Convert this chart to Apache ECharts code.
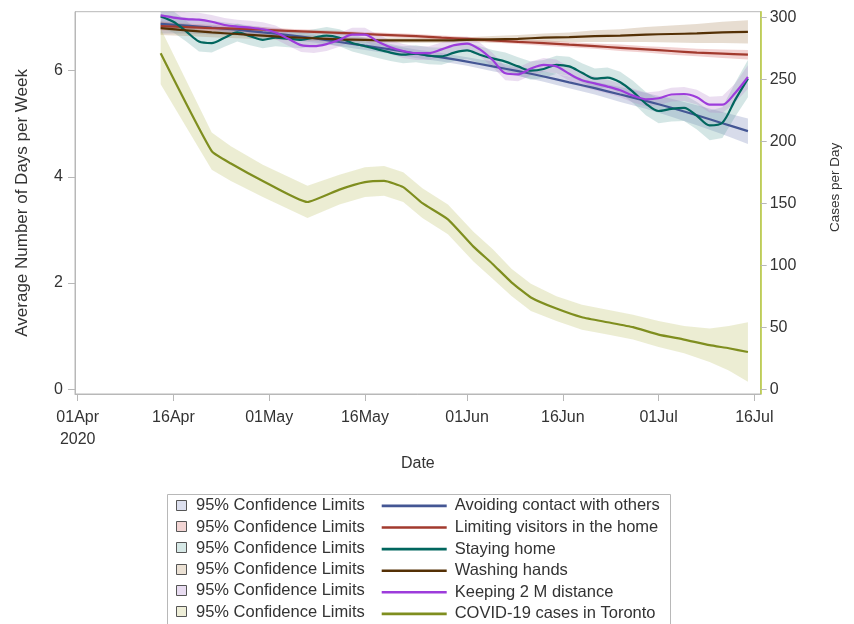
<!DOCTYPE html>
<html>
<head>
<meta charset="utf-8">
<script src="https://cdn.jsdelivr.net/npm/echarts@6/dist/echarts.min.js"></script>
<style>
html,body{margin:0;padding:0;background:#fff;}
#chart{width:854px;height:624px;}
</style>
</head>
<body>
<div id="chart"></div>
<script>
// ---------- data ----------
const tickDates = ['2020-04-01','2020-04-16','2020-05-01','2020-05-16','2020-06-01','2020-06-16','2020-07-01','2020-07-16'];
const tickLabels = ['01Apr\n2020','16Apr','01May','16May','01Jun','16Jun','01Jul','16Jul'];
const leftTicks = [0, 2, 4, 6];
const rightTicks = [0, 50, 100, 150, 200, 250, 300];

// every 4 days (smooth fitted lines)
const dates4 = ['2020-04-14','2020-04-18','2020-04-22','2020-04-26','2020-04-30','2020-05-04','2020-05-08','2020-05-12',
  '2020-05-16','2020-05-20','2020-05-24','2020-05-28','2020-06-01','2020-06-05','2020-06-09','2020-06-13',
  '2020-06-17','2020-06-21','2020-06-25','2020-06-29','2020-07-03','2020-07-07','2020-07-11','2020-07-15'];
// every 2 days (wiggly lines)
const dates2 = ['2020-04-14','2020-04-16','2020-04-18','2020-04-20','2020-04-22','2020-04-24','2020-04-26','2020-04-28','2020-04-30',
  '2020-05-02','2020-05-04','2020-05-06','2020-05-08','2020-05-10','2020-05-12','2020-05-14','2020-05-16','2020-05-18',
  '2020-05-20','2020-05-22','2020-05-24','2020-05-26','2020-05-28','2020-05-30',
  '2020-06-01','2020-06-03','2020-06-05','2020-06-07','2020-06-09','2020-06-11','2020-06-13','2020-06-15','2020-06-17',
  '2020-06-19','2020-06-21','2020-06-23','2020-06-25','2020-06-27','2020-06-29',
  '2020-07-01','2020-07-03','2020-07-05','2020-07-07','2020-07-09','2020-07-11','2020-07-13','2020-07-15'];
const datesCases = ['2020-04-14','2020-04-22','2020-04-25','2020-04-30','2020-05-07','2020-05-12','2020-05-16','2020-05-19',
  '2020-05-22','2020-05-25','2020-05-29','2020-06-02','2020-06-05','2020-06-08','2020-06-11','2020-06-15',
  '2020-06-19','2020-06-23','2020-06-27','2020-07-01','2020-07-05','2020-07-09','2020-07-12','2020-07-15'];

// Avoiding contact with others (dates4)
const avoidMid = [6.88,6.85,6.81,6.77,6.72,6.67,6.61,6.54,6.47,6.40,6.32,6.25,6.17,6.08,5.99,5.89,5.78,5.67,5.55,5.43,5.30,5.16,5.01,4.86];
const avoidLo  = [6.70,6.70,6.68,6.66,6.62,6.58,6.53,6.46,6.39,6.32,6.24,6.17,6.09,5.99,5.90,5.79,5.67,5.55,5.41,5.28,5.13,4.97,4.80,4.62];
const avoidHi  = [7.06,7.00,6.94,6.88,6.82,6.76,6.69,6.62,6.55,6.48,6.40,6.33,6.25,6.17,6.08,5.99,5.89,5.79,5.69,5.58,5.47,5.35,5.22,5.10];
// Limiting visitors in the home (dates4)
const visitMid = [6.84,6.82,6.80,6.79,6.77,6.75,6.73,6.71,6.69,6.67,6.65,6.62,6.60,6.57,6.54,6.52,6.49,6.46,6.43,6.40,6.37,6.34,6.32,6.30];
const visitLo  = [6.76,6.75,6.74,6.74,6.72,6.71,6.69,6.67,6.65,6.63,6.61,6.58,6.56,6.53,6.50,6.47,6.44,6.41,6.37,6.34,6.30,6.27,6.24,6.21];
const visitHi  = [6.92,6.89,6.86,6.84,6.82,6.79,6.77,6.75,6.73,6.71,6.69,6.66,6.64,6.61,6.58,6.57,6.54,6.51,6.49,6.46,6.44,6.41,6.40,6.39];
// Washing hands (dates4)
const washMid = [6.80,6.76,6.72,6.69,6.66,6.63,6.61,6.59,6.58,6.57,6.57,6.57,6.58,6.59,6.60,6.62,6.63,6.65,6.66,6.68,6.69,6.70,6.72,6.73];
const washLo  = [6.67,6.65,6.63,6.61,6.59,6.57,6.56,6.54,6.53,6.52,6.52,6.52,6.53,6.53,6.53,6.54,6.54,6.54,6.54,6.54,6.53,6.52,6.52,6.51];
const washHi  = [6.93,6.87,6.81,6.77,6.73,6.69,6.66,6.64,6.63,6.62,6.62,6.62,6.63,6.65,6.67,6.70,6.72,6.76,6.78,6.82,6.85,6.88,6.92,6.95];
// Staying home (dates2)
const homeMid = [7.02,6.92,6.74,6.55,6.52,6.62,6.72,6.65,6.58,6.62,6.60,6.58,6.62,6.66,6.62,6.52,6.46,6.40,6.34,6.30,6.32,6.28,6.27,6.34,
  6.38,6.30,6.23,6.17,6.08,6.00,6.03,6.11,6.08,5.96,5.85,5.87,5.78,5.60,5.38,5.24,5.28,5.30,5.15,4.97,5.02,5.45,5.85];
const homeLo  = [6.80,6.72,6.55,6.36,6.34,6.45,6.55,6.48,6.42,6.46,6.44,6.42,6.46,6.50,6.46,6.36,6.30,6.24,6.18,6.14,6.16,6.12,6.11,6.18,
  6.22,6.14,6.07,6.00,5.91,5.83,5.86,5.94,5.90,5.78,5.66,5.68,5.58,5.39,5.16,5.01,5.04,5.05,4.89,4.69,4.73,5.13,5.50];
const homeHi  = [7.22,7.12,6.94,6.74,6.70,6.79,6.89,6.82,6.74,6.78,6.76,6.74,6.78,6.82,6.78,6.68,6.62,6.56,6.50,6.46,6.48,6.44,6.43,6.50,
  6.54,6.46,6.39,6.34,6.25,6.17,6.20,6.28,6.26,6.14,6.04,6.06,5.98,5.81,5.60,5.47,5.52,5.55,5.41,5.25,5.31,5.77,6.20];
// Keeping 2 M distance (dates2)
const distMid = [7.04,7.00,6.97,6.96,6.92,6.86,6.83,6.81,6.78,6.72,6.60,6.48,6.46,6.50,6.58,6.68,6.68,6.55,6.44,6.37,6.33,6.33,6.40,6.48,
  6.51,6.40,6.20,5.95,5.93,6.04,6.11,6.08,5.94,5.82,5.76,5.70,5.63,5.53,5.46,5.48,5.55,5.56,5.50,5.36,5.36,5.58,5.88];
const distLo  = [6.88,6.86,6.84,6.83,6.79,6.73,6.70,6.68,6.65,6.59,6.47,6.35,6.33,6.37,6.45,6.55,6.55,6.42,6.31,6.24,6.20,6.20,6.27,6.35,
  6.38,6.27,6.07,5.82,5.80,5.91,5.98,5.95,5.81,5.69,5.63,5.57,5.50,5.40,5.33,5.35,5.42,5.43,5.36,5.21,5.20,5.40,5.66];
const distHi  = [7.20,7.14,7.10,7.09,7.05,6.99,6.96,6.94,6.91,6.85,6.73,6.61,6.59,6.63,6.71,6.81,6.81,6.68,6.57,6.50,6.46,6.46,6.53,6.61,
  6.64,6.53,6.33,6.08,6.06,6.17,6.24,6.21,6.07,5.95,5.89,5.83,5.76,5.66,5.59,5.61,5.68,5.69,5.64,5.51,5.52,5.76,6.10];
// COVID-19 cases in Toronto (datesCases, right axis)
const casesMid = [271,192,182,168,151,161,167,168,163,150,137,115,101,86,74,65,58,54,50,44,40,35.5,33,30];
const casesLo  = [246,177,168,155,138,149,155,156,151,138,125,103,89,75,63,55,48,44,40,34,29,22,15,6];
const casesHi  = [291,207,196,181,164,173,179,180,175,162,149,127,113,97,85,75,68,64,60,55,51,49,51,54];

// ---------- build ----------
const DAY0 = Date.UTC(2020, 3, 1);
const toDay = s => (Date.parse(s) - DAY0) / 864e5;
const tickDays = tickDates.map(toDay);
const FONT = "'Liberation Sans', Arial, sans-serif";
const TXT = '#333';

const groups = [
  {name:'Avoiding contact with others', color:'#445694', band:'rgba(111,126,179,0.28)', sq:'#dcdfee', dates:dates4, mid:avoidMid, lo:avoidLo, hi:avoidHi, axis:0, smooth:0.3},
  {name:'Limiting visitors in the home', color:'#A23A2E', band:'rgba(208,91,91,0.28)', sq:'#f2d5d4', dates:dates4, mid:visitMid, lo:visitLo, hi:visitHi, axis:0, smooth:0.3},
  {name:'Staying home', color:'#01665E', band:'rgba(102,165,160,0.28)', sq:'#d6e8e6', dates:dates2, mid:homeMid, lo:homeLo, hi:homeHi, axis:0, smooth:0.3},
  {name:'Washing hands', color:'#543005', band:'rgba(169,134,91,0.28)', sq:'#ebe1d4', dates:dates4, mid:washMid, lo:washLo, hi:washHi, axis:0, smooth:0.3},
  {name:'Keeping 2 M distance', color:'#9D3CDB', band:'rgba(182,137,205,0.28)', sq:'#e8dcf1', dates:dates2, mid:distMid, lo:distLo, hi:distHi, axis:0, smooth:0.3},
  {name:'COVID-19 cases in Toronto', color:'#7F8E1F', band:'rgba(186,188,92,0.27)', sq:'#eeeed8', dates:datesCases, mid:casesMid, lo:casesLo, hi:casesHi, axis:1, smooth:0.15}
];

function bandRenderer(xs, lo, hi, fill) {
  return function (params, api) {
    if (params.dataIndex !== 0) return null;
    const pts = [];
    for (let j = 0; j < xs.length; j++) pts.push(api.coord([xs[j], hi[j]]));
    for (let j = xs.length - 1; j >= 0; j--) pts.push(api.coord([xs[j], lo[j]]));
    return {type:'polygon', silent:true, shape:{points:pts}, style:{fill:fill, stroke:null}};
  };
}

const series = [];
groups.forEach((g, i) => {
  const xs = g.dates.map(toDay);
  series.push({
    type:'custom', name:'band_' + i, yAxisIndex:g.axis, silent:true, clip:true, z:1,
    renderItem: bandRenderer(xs, g.lo, g.hi, g.band),
    encode:{x:0, y:[1, 2]},
    data: xs.map((x, j) => [x, g.lo[j], g.hi[j]])
  });
});
groups.forEach((g) => {
  const xs = g.dates.map(toDay);
  series.push({
    type:'line', name:g.name, yAxisIndex:g.axis, symbol:'none', smooth:g.smooth, z:3,
    itemStyle:{color:g.color}, lineStyle:{color:g.color, width:2.2},
    data: xs.map((x, j) => [x, g.mid[j]])
  });
});

// legend squares + "95% Confidence Limits" texts
const rowY0 = 505.7, rowStep = 21.3;
const graphics = [{
  type:'rect', silent:true, shape:{x:167.5, y:494.5, width:503, height:140},
  style:{fill:'none', stroke:'#b8b8b8', lineWidth:1}
}];
groups.forEach((g, i) => {
  const cy = rowY0 + i * rowStep;
  graphics.push({type:'rect', silent:true, shape:{x:176.5, y:Math.round(cy) - 5.5, width:10, height:10},
    style:{fill:g.sq, stroke:'#555', lineWidth:1}});
  graphics.push({type:'text', silent:true, x:196, y:cy,
    style:{text:'95% Confidence Limits', font:'16.5px ' + FONT, fill:TXT, verticalAlign:'middle', align:'left'}});
});

const chart = echarts.init(document.getElementById('chart'), null, {renderer:'canvas'});
chart.setOption({
  animation:false,
  backgroundColor:'#fff',
  textStyle:{fontFamily:FONT},
  grid:{left:75, right:93.3, top:11.7, bottom:230, show:true, borderColor:'#b8b8b8', borderWidth:1, backgroundColor:'transparent', containLabel:false, outerBoundsMode:'none'},
  xAxis:{
    type:'value', min:-0.42, max:107.0,
    name:'Date', nameLocation:'middle', nameGap:62,
    nameTextStyle:{fontSize:16, color:TXT, fontFamily:FONT},
    axisLine:{onZero:false, lineStyle:{color:'#b8b8b8', width:1}},
    axisTick:{show:true, length:7, lineStyle:{color:'#b8b8b8'}, customValues:tickDays},
    axisLabel:{fontSize:16, color:TXT, margin:13, lineHeight:22, customValues:tickDays,
      formatter:(v) => { const k = tickDays.findIndex(d => Math.abs(d - v) < 0.01); return k >= 0 ? tickLabels[k] : ''; }},
    splitLine:{show:false}
  },
  yAxis:[{
    type:'value', position:'left', min:-0.09, max:7.11,
    name:'Average Number of Days per Week', nameLocation:'middle', nameGap:44, nameRotate:90,
    nameTextStyle:{fontSize:17, color:TXT, fontFamily:FONT},
    axisLine:{show:true, onZero:false, lineStyle:{color:'#b8b8b8', width:1}},
    axisTick:{show:true, length:7, lineStyle:{color:'#b8b8b8'}, customValues:leftTicks},
    axisLabel:{fontSize:16, color:TXT, margin:12, customValues:leftTicks},
    splitLine:{show:false}
  },{
    type:'value', position:'right', min:-3.9, max:304.5,
    name:'Cases per Day', nameLocation:'middle', nameGap:68, nameRotate:90,
    nameTextStyle:{fontSize:13.5, color:TXT, fontFamily:FONT, padding:[0,0,0,31]},
    axisLine:{show:true, onZero:false, lineStyle:{color:'#b9cb3a', width:1.5}},
    axisTick:{show:true, length:6, lineStyle:{color:'#b8b8b8'}, customValues:rightTicks},
    axisLabel:{fontSize:16, color:TXT, margin:9, customValues:rightTicks},
    splitLine:{show:false}
  }],
  legend:{
    show:true, orient:'vertical', left:381.7, top:497.4, padding:0, itemGap:4.6,
    itemWidth:65, itemHeight:2.6, icon:'rect', selectedMode:false,
    textStyle:{fontSize:16.5, color:TXT, fontFamily:FONT, lineHeight:16, padding:[0,0,0,3]},
    data: groups.map(g => g.name)
  },
  graphic: graphics,
  series: series
});
</script>
</body>
</html>
